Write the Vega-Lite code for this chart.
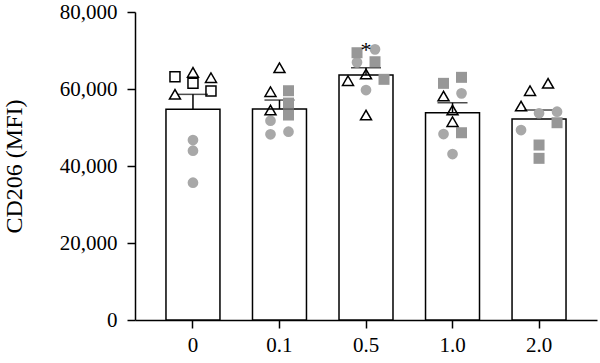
{
  "$schema": "https://vega.github.io/schema/vega-lite/v6.json",
  "width": 462,
  "height": 308,
  "autosize": {"type": "none"},
  "padding": {"left": 135, "top": 12, "right": 3, "bottom": 43},
  "background": "white",
  "config": {
    "view": {"stroke": null},
    "axis": {
      "domainColor": "black", "tickColor": "black", "domainWidth": 1.5, "tickWidth": 1.5,
      "labelFont": "Liberation Serif", "labelFontSize": 21, "labelColor": "black",
      "titleFont": "Liberation Serif", "titleFontSize": 24, "titleFontWeight": "normal", "titleColor": "black",
      "grid": false, "tickSize": 8
    }
  },
  "datasets": {
    "bars": [
      {"dose": "0", "mean": 54720, "upper": 58610},
      {"dose": "0.1", "mean": 54800, "upper": 57130},
      {"dose": "0.5", "mean": 63630, "upper": 65520},
      {"dose": "1.0", "mean": 53840, "upper": 56430},
      {"dose": "2.0", "mean": 52200, "upper": 54540}
    ],
    "pts": [
      {"dose": "0", "lane": "L2", "type": "osq", "value": 63190},
      {"dose": "0", "lane": "C", "type": "tri", "value": 64320},
      {"dose": "0", "lane": "C", "type": "osq", "value": 61470},
      {"dose": "0", "lane": "R2", "type": "tri", "value": 62930},
      {"dose": "0", "lane": "L2", "type": "tri", "value": 58610},
      {"dose": "0", "lane": "R2", "type": "osq", "value": 59470},
      {"dose": "0", "lane": "C", "type": "gcir", "value": 46750},
      {"dose": "0", "lane": "C", "type": "gcir", "value": 43970},
      {"dose": "0", "lane": "C", "type": "gcir", "value": 35660},
      {"dose": "0.1", "lane": "C", "type": "tri", "value": 65520},
      {"dose": "0.1", "lane": "L1", "type": "tri", "value": 59290},
      {"dose": "0.1", "lane": "R1", "type": "gsq", "value": 59550},
      {"dose": "0.1", "lane": "L1", "type": "tri", "value": 54540},
      {"dose": "0.1", "lane": "R1", "type": "gsq", "value": 56350},
      {"dose": "0.1", "lane": "R1", "type": "gsq", "value": 53240},
      {"dose": "0.1", "lane": "L1", "type": "gcir", "value": 51760},
      {"dose": "0.1", "lane": "L1", "type": "gcir", "value": 48230},
      {"dose": "0.1", "lane": "R1", "type": "gcir", "value": 48900},
      {"dose": "0.5", "lane": "L1", "type": "gsq", "value": 69420},
      {"dose": "0.5", "lane": "R1", "type": "gcir", "value": 70300},
      {"dose": "0.5", "lane": "L1", "type": "gcir", "value": 66920},
      {"dose": "0.5", "lane": "R1", "type": "gsq", "value": 67080},
      {"dose": "0.5", "lane": "C", "type": "tri", "value": 63890},
      {"dose": "0.5", "lane": "L2", "type": "tri", "value": 62150},
      {"dose": "0.5", "lane": "R2", "type": "gsq", "value": 62510},
      {"dose": "0.5", "lane": "C", "type": "gcir", "value": 59730},
      {"dose": "0.5", "lane": "C", "type": "tri", "value": 53240},
      {"dose": "1.0", "lane": "L1", "type": "gsq", "value": 61470},
      {"dose": "1.0", "lane": "R1", "type": "gsq", "value": 63030},
      {"dose": "1.0", "lane": "L1", "type": "tri", "value": 58170},
      {"dose": "1.0", "lane": "R1", "type": "gcir", "value": 58870},
      {"dose": "1.0", "lane": "C", "type": "tri", "value": 54540},
      {"dose": "1.0", "lane": "C", "type": "tri", "value": 51500},
      {"dose": "1.0", "lane": "L1", "type": "gcir", "value": 48300},
      {"dose": "1.0", "lane": "R1", "type": "gsq", "value": 48640},
      {"dose": "1.0", "lane": "C", "type": "gcir", "value": 43110},
      {"dose": "2.0", "lane": "R1", "type": "tri", "value": 61470},
      {"dose": "2.0", "lane": "L1", "type": "tri", "value": 59550},
      {"dose": "2.0", "lane": "L2", "type": "tri", "value": 55580},
      {"dose": "2.0", "lane": "C", "type": "gcir", "value": 53680},
      {"dose": "2.0", "lane": "R2", "type": "gcir", "value": 54100},
      {"dose": "2.0", "lane": "R2", "type": "gsq", "value": 51240},
      {"dose": "2.0", "lane": "L2", "type": "gcir", "value": 49340},
      {"dose": "2.0", "lane": "C", "type": "gsq", "value": 45450},
      {"dose": "2.0", "lane": "C", "type": "gsq", "value": 41990}
    ],
    "sig": [{"dose": "0.5", "label": "*", "value": 68300}]
  },
  "encoding": {
    "x": {
      "field": "dose", "type": "nominal",
      "scale": {"domain": ["0", "0.1", "0.5", "1.0", "2.0"], "paddingInner": 0.376, "paddingOuter": 0.358},
      "axis": {"title": null, "labelAngle": 0, "labelPadding": 6}
    }
  },
  "layer": [
    {
      "data": {"name": "bars"},
      "mark": {"type": "bar", "fill": "white", "stroke": "black", "strokeWidth": 1.5, "width": {"expr": "bandwidth('x')"}},
      "encoding": {
        "y": {
          "field": "mean", "type": "quantitative",
          "scale": {"domain": [0, 80000], "nice": false},
          "axis": {"values": [0, 20000, 40000, 60000, 80000], "format": ",d", "title": "CD206 (MFI)", "labelPadding": 10, "titleX": -121, "titleBaseline": "middle"}
        }
      }
    },
    {
      "data": {"name": "bars"},
      "mark": {"type": "rule", "color": "black", "strokeWidth": 1.5},
      "encoding": {"y": {"field": "mean", "type": "quantitative"}, "y2": {"field": "upper"}}
    },
    {
      "data": {"name": "bars"},
      "mark": {"type": "tick", "color": "black", "size": 30, "thickness": 1.5, "orient": "horizontal"},
      "encoding": {"y": {"field": "upper", "type": "quantitative"}}
    },
    {
      "data": {"name": "pts"},
      "transform": [{"filter": "datum.type === 'gcir'"}],
      "mark": {"type": "point", "shape": "circle", "filled": true, "color": "#a8a8a8", "opacity": 1, "size": 115},
      "encoding": {
        "y": {"field": "value", "type": "quantitative"},
        "xOffset": {"field": "lane", "type": "nominal", "scale": {"type": "point", "domain": ["L2", "L1", "C", "R1", "R2"], "range": [9, 45], "padding": 0}}
      }
    },
    {
      "data": {"name": "pts"},
      "transform": [{"filter": "datum.type === 'gsq'"}],
      "mark": {"type": "point", "shape": "square", "filled": true, "color": "#979797", "opacity": 1, "size": 121},
      "encoding": {
        "y": {"field": "value", "type": "quantitative"},
        "xOffset": {"field": "lane", "type": "nominal", "scale": {"type": "point", "domain": ["L2", "L1", "C", "R1", "R2"], "range": [9, 45], "padding": 0}}
      }
    },
    {
      "data": {"name": "pts"},
      "transform": [{"filter": "datum.type === 'osq'"}],
      "mark": {"type": "point", "shape": "square", "filled": false, "color": "black", "strokeWidth": 1.5, "opacity": 1, "size": 100},
      "encoding": {
        "y": {"field": "value", "type": "quantitative"},
        "xOffset": {"field": "lane", "type": "nominal", "scale": {"type": "point", "domain": ["L2", "L1", "C", "R1", "R2"], "range": [9, 45], "padding": 0}}
      }
    },
    {
      "data": {"name": "pts"},
      "transform": [{"filter": "datum.type === 'tri'"}],
      "mark": {"type": "point", "shape": "triangle-up", "filled": false, "color": "black", "strokeWidth": 1.5, "opacity": 1, "size": 121},
      "encoding": {
        "y": {"field": "value", "type": "quantitative"},
        "xOffset": {"field": "lane", "type": "nominal", "scale": {"type": "point", "domain": ["L2", "L1", "C", "R1", "R2"], "range": [9, 45], "padding": 0}}
      }
    },
    {
      "data": {"name": "sig"},
      "mark": {"type": "text", "font": "Liberation Serif", "fontSize": 22, "color": "black", "baseline": "alphabetic"},
      "encoding": {"y": {"field": "value", "type": "quantitative"}, "text": {"field": "label"}}
    }
  ]
}
